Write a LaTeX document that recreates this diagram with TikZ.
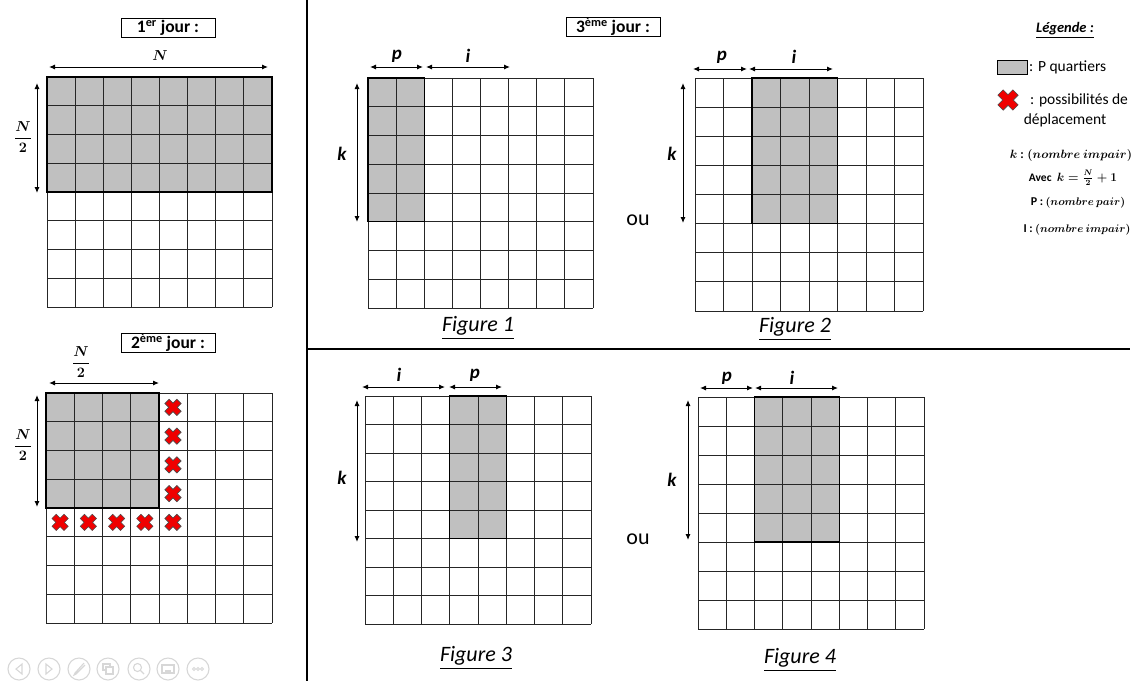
\documentclass[tikz,border=0pt]{standalone}
\usepackage{fontspec}
\setmainfont{Carlito}
\usepackage{amsmath}
\usetikzlibrary{arrows.meta,calc}
\definecolor{quartier}{RGB}{192,192,192}
\definecolor{croixrouge}{RGB}{240,0,0}
\definecolor{iconcol}{RGB}{215,215,215}
\tikzset{
  gridline/.style={draw=black!85, line width=0.9pt},
  shadeborder/.style={draw=black, line width=1.4pt},
  dim/.style={{Latex[length=6pt,width=5pt]}-{Latex[length=6pt,width=5pt]}, line width=1pt},
  titlebox/.style={draw, line width=1pt, minimum width=94pt, minimum height=19pt, inner sep=0pt, font=\fontsize{17.5}{19}\selectfont\bfseries},
  dimlabel/.style={font=\fontsize{19}{21}\selectfont\bfseries\itshape, inner sep=0pt},
  mathlabel/.style={font=\fontsize{14}{16}\selectfont\boldmath, inner sep=0pt},
  figlabel/.style={font=\fontsize{22}{24}\selectfont\itshape, inner sep=0pt},
  outext/.style={font=\fontsize{22}{24}\selectfont, inner sep=0pt},
  legtext/.style={font=\fontsize{15.5}{18}\selectfont, inner sep=0pt},
  legmath/.style={font=\fontsize{12.5}{15}\selectfont\boldmath, inner sep=0pt},
  legmathsmall/.style={font=\fontsize{10.5}{13}\selectfont\boldmath, inner sep=0pt},
  icon/.style={draw=iconcol, line width=1.1pt},
  croix/.pic={
    \draw[fill=croixrouge, draw=black!70, line width=0.6pt, rotate=45]
      (3,8.5) -- (3,3) -- (8.5,3) -- (8.5,-3) -- (3,-3) -- (3,-8.5) -- (-3,-8.5)
      -- (-3,-3) -- (-8.5,-3) -- (-8.5,3) -- (-3,3) -- (-3,8.5) -- cycle;
  }
}
% grid: x0 y0 x1 y1 shadedcolstart shadedcolend shadedrows
\newcommand{\grille}[7]{%
  \pgfmathsetmacro\gcw{(#3-#1)/8}%
  \pgfmathsetmacro\gch{(#4-#2)/8}%
  \fill[quartier] ({#1+#5*\gcw},#2) rectangle ({#1+#6*\gcw},{#2+#7*\gch});
  \foreach \gi in {0,...,8} {
    \draw[gridline] ({#1+\gi*\gcw},#2) -- ({#1+\gi*\gcw},#4);
    \draw[gridline] (#1,{#2+\gi*\gch}) -- (#3,{#2+\gi*\gch});
  }
  \draw[shadeborder] ({#1+#5*\gcw},#2) rectangle ({#1+#6*\gcw},{#2+#7*\gch});
}
\begin{document}
\begin{tikzpicture}[x=1pt, y=-1pt]
\useasboundingbox (0,0) rectangle (1139,681);

% dividers
\coordinate (vtop) at (307,0);
\coordinate (vbot) at (307,681);
\coordinate (hleft) at (307,349);
\coordinate (hright) at (1130,349);
\draw[line width=1.6pt] (vtop) -- (vbot);
\draw[line width=1.6pt] (hleft) -- (hright);

% ---------- 1er jour ----------
\node[titlebox] (t1) at (168,28) {1\textsuperscript{er} jour :};
\grille{47}{77}{272}{307}{0}{8}{4}
\coordinate (a1l) at (49,67); \coordinate (a1r) at (268,67);
\draw[dim] (a1l) -- (a1r);
\node[mathlabel] (lN1) at (160,56) {$N$};
\coordinate (a1t) at (37,83); \coordinate (a1b) at (37,193);
\draw[dim] (a1t) -- (a1b);
\node[mathlabel] (lN2a) at (23,137) {$\dfrac{N}{2}$};

% ---------- 2eme jour ----------
\node[titlebox] (t2) at (168,343) {2\textsuperscript{ème} jour :};
\grille{46}{393}{272}{623}{0}{4}{4}
\coordinate (a2l) at (49,383); \coordinate (a2r) at (159,383);
\draw[dim] (a2l) -- (a2r);
\node[mathlabel] (lN2b) at (81,362) {$\dfrac{N}{2}$};
\coordinate (a2t) at (37,395); \coordinate (a2b) at (37,507);
\draw[dim] (a2t) -- (a2b);
\node[mathlabel] (lN2c) at (23,445) {$\dfrac{N}{2}$};
\foreach \r in {0,...,4} { \pic at (173,{393+(\r+0.5)*28.75}) {croix}; }
\foreach \c in {0,...,3} { \pic at ({46+(\c+0.5)*28.25},{393+4.5*28.75}) {croix}; }

% ---------- 3eme jour ----------
\node[titlebox] (t3) at (613,27) {3\textsuperscript{ème} jour :};

% Figure 1
\grille{368}{78}{593}{308}{0}{2}{5}
\coordinate (f1pl) at (370,67); \coordinate (f1pr) at (423,67);
\coordinate (f1il) at (426,67); \coordinate (f1ir) at (510,67);
\draw[dim] (f1pl) -- (f1pr);
\draw[dim] (f1il) -- (f1ir);
\node[dimlabel] (f1p) at (397,56) {p};
\node[dimlabel] (f1i) at (468,56) {i};
\coordinate (f1kt) at (357,83); \coordinate (f1kb) at (357,222);
\draw[dim] (f1kt) -- (f1kb);
\node[dimlabel] (f1k) at (342,154) {k};
\node[figlabel] (fig1) at (478,328) {\underline{Figure 1}};

% Figure 2
\grille{695}{78}{923}{311}{2}{5}{5}
\coordinate (f2pl) at (693,69); \coordinate (f2pr) at (747,69);
\coordinate (f2il) at (749,69); \coordinate (f2ir) at (833,69);
\draw[dim] (f2pl) -- (f2pr);
\draw[dim] (f2il) -- (f2ir);
\node[dimlabel] (f2p) at (722,57) {p};
\node[dimlabel] (f2i) at (794,57) {i};
\coordinate (f2kt) at (683,83); \coordinate (f2kb) at (683,223);
\draw[dim] (f2kt) -- (f2kb);
\node[dimlabel] (f2k) at (672,154) {k};
\node[outext] (ou1) at (638,220) {ou};
\node[figlabel] (fig2) at (795,329) {\underline{Figure 2}};

% Figure 3
\grille{365}{396}{591}{624}{3}{5}{5}
\coordinate (f3il) at (362,387); \coordinate (f3ir) at (445,387);
\coordinate (f3pl) at (449,387); \coordinate (f3pr) at (502,387);
\draw[dim] (f3il) -- (f3ir);
\draw[dim] (f3pl) -- (f3pr);
\node[dimlabel] (f3i) at (399,375) {i};
\node[dimlabel] (f3p) at (475,375) {p};
\coordinate (f3kt) at (357,400); \coordinate (f3kb) at (357,542);
\draw[dim] (f3kt) -- (f3kb);
\node[dimlabel] (f3k) at (342,478) {k};
\node[figlabel] (fig3) at (476,658) {\underline{Figure 3}};

% Figure 4
\grille{698}{397}{924}{629}{2}{5}{5}
\coordinate (f4pl) at (700,388); \coordinate (f4pr) at (753,388);
\coordinate (f4il) at (755,388); \coordinate (f4ir) at (838,388);
\draw[dim] (f4pl) -- (f4pr);
\draw[dim] (f4il) -- (f4ir);
\node[dimlabel] (f4p) at (727,378) {p};
\node[dimlabel] (f4i) at (792,378) {i};
\coordinate (f4kt) at (688,400); \coordinate (f4kb) at (688,540);
\draw[dim] (f4kt) -- (f4kb);
\node[dimlabel] (f4k) at (672,480) {k};
\node[outext] (ou2) at (638,539) {ou};
\node[figlabel] (fig4) at (800,660) {\underline{Figure 4}};

% ---------- Legende ----------
\node[legtext, font=\fontsize{14.5}{17}\selectfont\bfseries\itshape] (legt) at (1065,30) {\underline{Légende :}};
\draw[fill=quartier, draw=black, line width=0.9pt] (997,60) rectangle (1027,74);
\node[legtext, anchor=west] (leg1) at (1029,67) {: P quartiers};
\pic[scale=1.25] at (1008,100) {croix};
\node[legtext, anchor=west] (leg2) at (1030,100) {: possibilités de};
\node[legtext] (leg3) at (1065,120) {déplacement};
\node[legmath] (leg4) at (1071,155) {$k$ \textbf{:} $(nombre\ impair)$};
\node[legmath] (leg5) at (1073,178) {\fontsize{11.5}{13}\selectfont\textbf{Avec}\ \ $k=\frac{N}{2}+1$};
\node[legmathsmall] (leg6) at (1078,203) {{\fontsize{12}{14}\selectfont\textbf{P :}} $(nombre\ pair)$};
\node[legmathsmall] (leg7) at (1077,230) {{\fontsize{12}{14}\selectfont\textbf{I :}} $(nombre\ impair)$};

% ---------- icones diaporama ----------
\foreach \ix [count=\n] in {19,49,79,108,139,168,198} {
  \coordinate (ic\n) at (\ix,669);
  \draw[icon] (ic\n) circle (11);
}
\draw[icon] ($(ic1)+(3,-5)$) -- ($(ic1)+(-3,0)$) -- ($(ic1)+(3,5)$) -- cycle;
\draw[icon] ($(ic2)+(-3,-5)$) -- ($(ic2)+(3,0)$) -- ($(ic2)+(-3,5)$) -- cycle;
\draw[icon] ($(ic3)+(5,-6)$) -- ($(ic3)+(-4,4)$) -- ($(ic3)+(-5,6)$) -- ($(ic3)+(-3,5)$) -- ($(ic3)+(6,-4)$);
\draw[icon] ($(ic4)+(-5,-5)$) rectangle ($(ic4)+(2,1)$);
\draw[icon, fill=white] ($(ic4)+(-2,-2)$) rectangle ($(ic4)+(5,5)$);
\draw[icon] ($(ic5)+(-1.5,-1.5)$) circle (4);
\draw[icon] ($(ic5)+(1.5,1.5)$) -- ($(ic5)+(5,5)$);
\draw[icon] ($(ic6)+(-6,-4)$) rectangle ($(ic6)+(6,4)$);
\draw[icon] ($(ic6)+(-3,2)$) -- ($(ic6)+(3,2)$);
\foreach \dx in {-4,0,4} { \draw[icon, line width=0.8pt] ($(ic7)+(\dx,0)$) circle (1.5); }
\end{tikzpicture}
\end{document}
